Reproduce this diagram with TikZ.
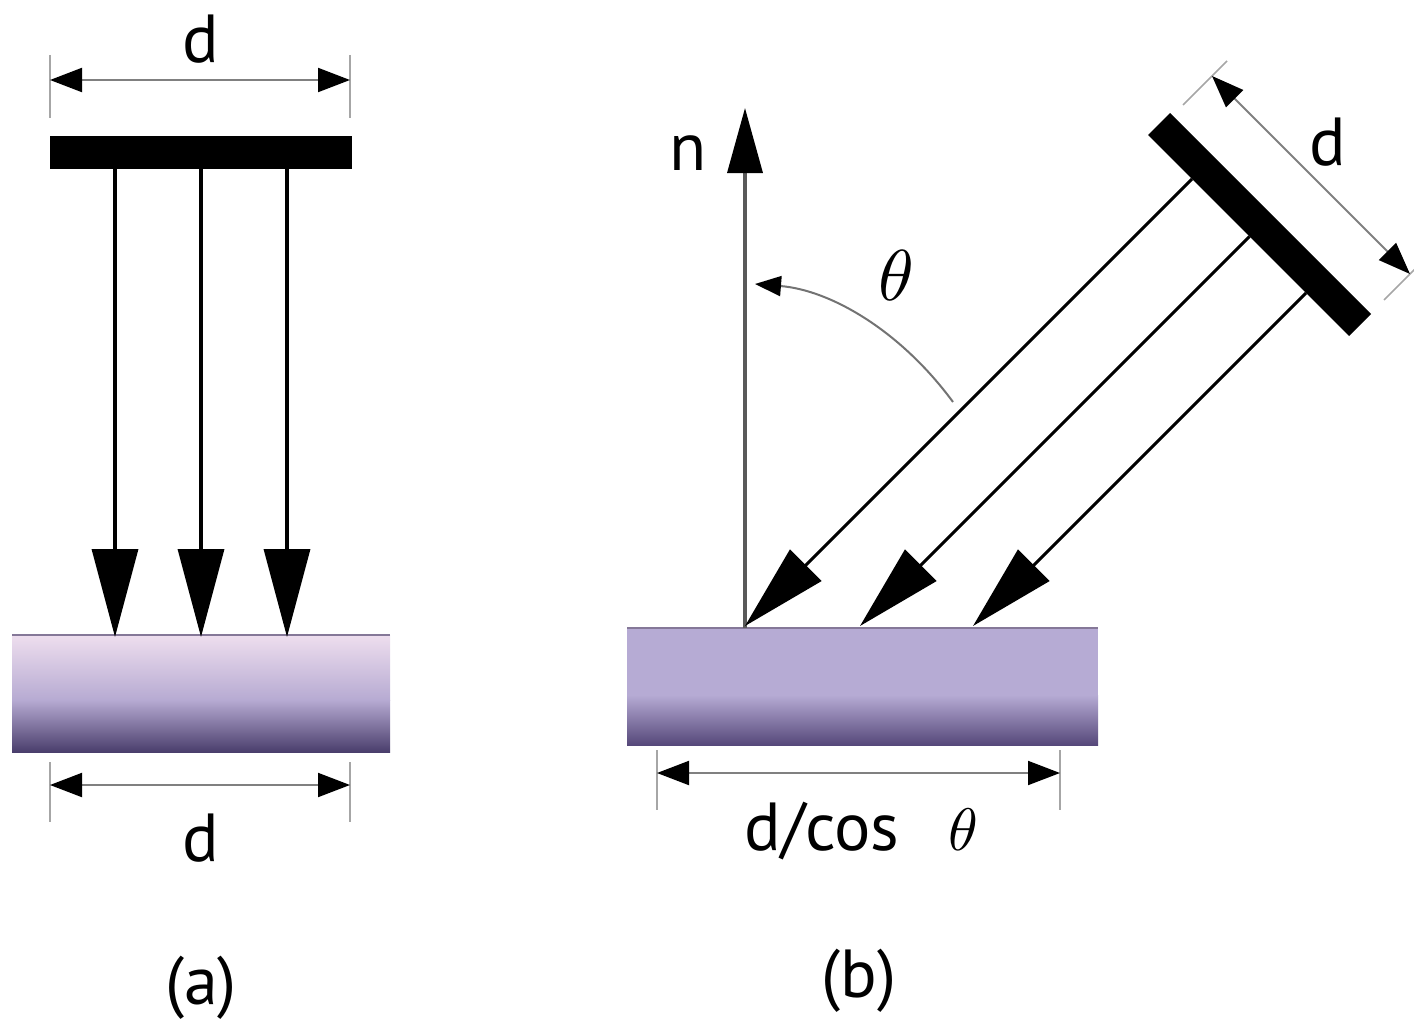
\documentclass[tikz,border=0pt]{standalone}
\usepackage{fontspec}
\setmainfont{PT Sans}
\usetikzlibrary{arrows.meta}
\definecolor{aTop}{HTML}{EEDEEE}
\definecolor{aMid}{HTML}{B6AAD2}
\definecolor{aMid2}{HTML}{9C90BC}
\definecolor{aBot}{HTML}{4A3E6C}
\definecolor{bFill}{HTML}{B6ABD4}
\definecolor{bMid}{HTML}{9A8CB8}
\definecolor{bBot}{HTML}{56487A}
\definecolor{slabEdge}{HTML}{857898}
\begin{document}
\begin{tikzpicture}[x=1pt,y=-1pt,
  ray/.style={line width=3.5pt,-{Triangle[length=88pt,width=46pt]}},
  oray/.style={line width=3pt,-{Triangle[length=86pt,width=44pt]}},
  dimline/.style={draw=black!50,line width=2pt,{Triangle[length=32pt,width=24pt,color=black]}-{Triangle[length=32pt,width=24pt,color=black]}},
  extline/.style={draw=black!35,line width=1.5pt},
  lbl/.style={font=\fontsize{68}{80}\selectfont,inner sep=0pt,anchor=base},
  slabedge/.style={draw=slabEdge,line width=2.5pt}]
\useasboundingbox (0,0) rectangle (1414,1025);

% ---------------- panel (a) ----------------
\shade[top color=aTop,bottom color=aMid] (12,635) rectangle (390,700.5);
\shade[top color=aMid,middle color=aMid2,bottom color=aBot] (12,700) rectangle (390,752);
\draw[slabedge] (12,635) -- (390,635);
\node[fill=black,inner sep=0pt,minimum width=302pt,minimum height=33pt] (barA) at (201,152.5) {};

\coordinate (a1s) at (115,169); \coordinate (a1e) at (115,637);
\coordinate (a2s) at (201,169); \coordinate (a2e) at (201,637);
\coordinate (a3s) at (287,169); \coordinate (a3e) at (287,637);
\draw[ray] (a1s) -- (a1e);
\draw[ray] (a2s) -- (a2e);
\draw[ray] (a3s) -- (a3e);

\draw[extline] (50,55) -- (50,118);
\draw[extline] (350,55) -- (350,118);
\coordinate (dta1) at (50,80); \coordinate (dta2) at (350,80);
\draw[dimline] (dta1) -- (dta2);
\node[lbl] (dTopA) at (201,63) {d};

\draw[extline] (50,762) -- (50,822);
\draw[extline] (350,762) -- (350,822);
\coordinate (dba1) at (50,785); \coordinate (dba2) at (350,785);
\draw[dimline] (dba1) -- (dba2);
\node[lbl] (dBotA) at (201,861) {d};

\node[lbl,anchor=center] (capA) at (201,988) {(a)};

% ---------------- panel (b) ----------------
\fill[bFill] (627,628) rectangle (1098,745);
\shade[top color=bFill,middle color=bMid,bottom color=bBot] (627,695) rectangle (1098,745);
\draw[slabedge] (627,628) -- (1098,628);

% normal
\coordinate (n0) at (745,628); \coordinate (n1) at (745,108);
\draw[draw=black!65,line width=3.5pt,-{Triangle[length=65pt,width=35pt,color=black]}] (n0) -- (n1);
\node[lbl] (nlab) at (688,170) {n};

% mirror
\fill[black] (1148,135) -- (1170,113) -- (1371,314) -- (1349,336) -- cycle;

% oblique rays
\coordinate (b1s) at (1192,179); \coordinate (b1e) at (745,626);
\coordinate (b2s) at (1249.5,236.5); \coordinate (b2e) at (860,626);
\coordinate (b3s) at (1306,293); \coordinate (b3e) at (973,626);
\draw[oray] (b1s) -- (b1e);
\draw[oray] (b2s) -- (b2e);
\draw[oray] (b3s) -- (b3e);

% angle arc
\coordinate (th0) at (953,402); \coordinate (th1) at (755,284);
\draw[draw=black!55,line width=2pt,-{Triangle[length=26pt,width=20pt,color=black]}]
  (th0) .. controls (900,330) and (830,290) .. (th1);
\node[scale=7.2] (thlab) at (896,275) {$\theta$};

% mirror dimension
\draw[extline] (1183,105) -- (1227,61);
\draw[extline] (1384,300) -- (1420,264);
\coordinate (dm1) at (1212,76); \coordinate (dm2) at (1410,274);
\draw[dimline] (dm1) -- (dm2);
\node[lbl] (dMir) at (1328,165) {d};

% bottom dimension (b)
\draw[extline] (657,750) -- (657,810);
\draw[extline] (1060,750) -- (1060,810);
\coordinate (dbb1) at (657,773); \coordinate (dbb2) at (1060,773);
\draw[dimline] (dbb1) -- (dbb2);
\node[lbl] (dcos) at (822,850) {d/cos};
\node[scale=6,anchor=base] (dcosth) at (963,850) {$\theta$};

\node[lbl,anchor=center] (capB) at (859,981) {(b)};
\end{tikzpicture}
\end{document}
